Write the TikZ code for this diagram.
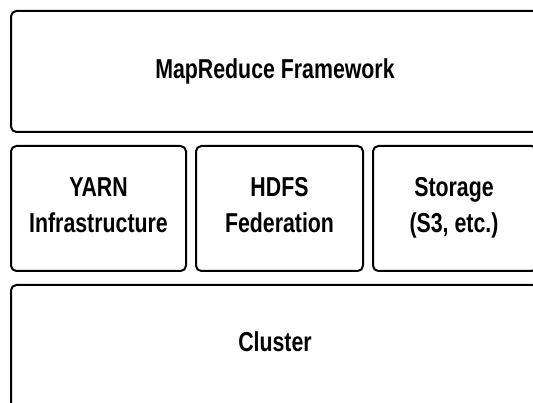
\documentclass[tikz,border=0pt]{standalone}
\usepackage{fontspec}
\setmainfont{Liberation Sans}[FakeStretch=0.78]
\usepackage{tikz}

\tikzset{
  layer/.style={draw=black, line width=1.5pt, rounded corners=4pt},
  layertext/.style={anchor=north, inner sep=0pt, align=center,
    font=\fontsize{20.5}{27}\selectfont\bfseries}
}

\begin{document}
\begin{tikzpicture}[x=0.75pt, y=-0.75pt]
   \useasboundingbox (0,0) rectangle (533,403);
   \clip (0,0) rectangle (533,403);

   %Capa superior
   \draw[layer] (11,11) rectangle (538,132);
   \node[layertext] (mapreduce) at (275,58) {MapReduce Framework};

   %Capa intermedia: tres bloques
   \draw[layer] (11,146) rectangle (186,271);
   \node[layertext] (yarn) at (98.5,177) {YARN\\Infrastructure};

   \draw[layer] (196,146) rectangle (363,271);
   \node[layertext] (hdfs) at (279.5,177) {HDFS\\Federation};

   \draw[layer] (373,146) rectangle (537,271);
   \node[layertext] (storage) at (454,177) {Storage\\(S3, etc.)};

   %Capa inferior
   \draw[layer] (11,285) rectangle (538,430);
   \node[layertext] (cluster) at (275,331) {Cluster};
\end{tikzpicture}
\end{document}
